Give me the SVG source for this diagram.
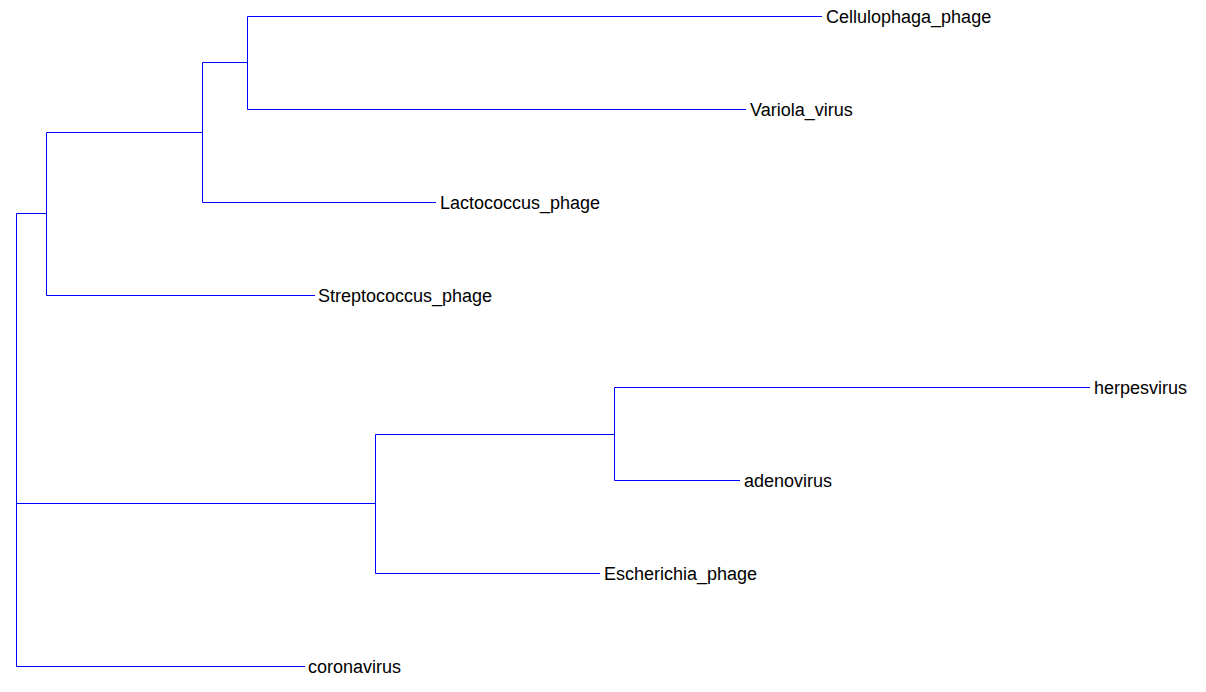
<svg xmlns="http://www.w3.org/2000/svg" width="1206" height="692" viewBox="0 0 1206 692">
<style>
.e{stroke:#0000ff;stroke-width:1;fill:none}
.l{font-family:"Liberation Sans",Arial,sans-serif;font-size:18px;fill:#000}
</style>
<rect width="1206" height="692" fill="#fff"/>
<g id="connectors">
<path class="e" d="M16.5,213.5V666.5H305M16.5,213.5H46.5M16.5,503.5H375.5"/>
<path class="e" d="M46.5,132.5V295.5H315M46.5,132.5H202.5"/>
<path class="e" d="M202.5,62.5V202.5H436M202.5,62.5H247.5"/>
<path class="e" d="M247.5,16.5V109.5H746M247.5,16.5H822"/>
<path class="e" d="M375.5,434.5V573.5H600M375.5,434.5H614.5"/>
<path class="e" d="M614.5,387.5V480.5H740M614.5,387.5H1090"/>
</g>
<g id="Cellulophaga_phage"><text class="l" x="826" y="23">Cellulophaga_phage</text></g>
<g id="Variola_virus"><text class="l" x="750" y="116">Variola_virus</text></g>
<g id="Lactococcus_phage"><text class="l" x="440" y="209">Lactococcus_phage</text></g>
<g id="Streptococcus_phage"><text class="l" x="318" y="302">Streptococcus_phage</text></g>
<g id="herpesvirus"><text class="l" x="1094" y="394">herpesvirus</text></g>
<g id="adenovirus"><text class="l" x="744" y="487">adenovirus</text></g>
<g id="Escherichia_phage"><text class="l" x="604" y="580">Escherichia_phage</text></g>
<g id="coronavirus"><text class="l" x="308" y="673">coronavirus</text></g>
</svg>
